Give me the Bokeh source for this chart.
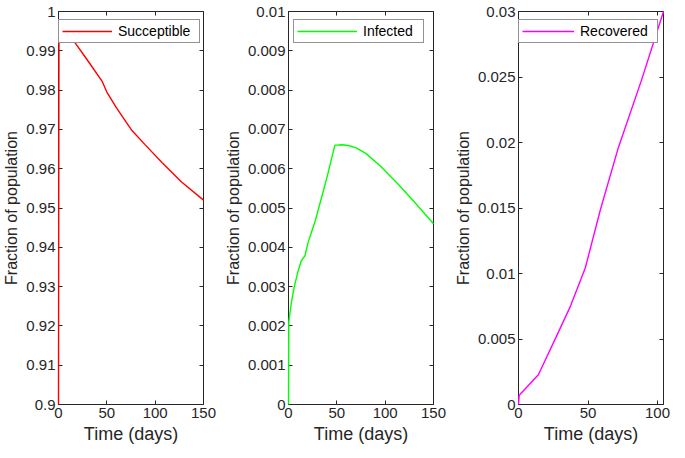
from bokeh.plotting import figure
from bokeh.layouts import row
from bokeh.models import (LinearAxis, FixedTicker, CustomJSTickFormatter, Range1d,
                          Legend, LegendItem)
from bokeh.embed import file_html
from bokeh.resources import INLINE

# ---- data ----
t_s = [0, 0.5, 1, 17, 30, 45, 50, 60, 76, 90, 107, 127, 150]
s_vals = [0.9, 0.995, 0.9972, 0.9921, 0.9876, 0.9823, 0.9795, 0.9755, 0.9697,
          0.9660, 0.9616, 0.9567, 0.9520]

t_i = [0, 0.3, 3, 6, 10, 13, 15, 17, 20, 28, 40, 48, 50, 55, 62, 70, 80, 95,
       114, 130, 150]
i_vals = [0, 0.0021, 0.0026, 0.0030, 0.0034, 0.00364, 0.00372, 0.00378, 0.0041,
          0.0047, 0.0058, 0.0066, 0.0066, 0.00661, 0.00659, 0.00653, 0.00639,
          0.00607, 0.00559, 0.00516, 0.0046]

t_r = [0, 0.5, 14.3, 26.7, 37.4, 48.1, 58.8, 71.4, 88.6, 104.3]
r_vals = [0, 0.0007, 0.00227, 0.00507, 0.00751, 0.01044, 0.01483, 0.01946,
          0.0248, 0.030]

x_ticks_150 = [0, 50, 100, 150]
x_ticks_r = [0, 50, 100]
y_ticks_s = [0.9, 0.91, 0.92, 0.93, 0.94, 0.95, 0.96, 0.97, 0.98, 0.99, 1.0]
y_ticks_i = [0, 0.001, 0.002, 0.003, 0.004, 0.005, 0.006, 0.007, 0.008, 0.009, 0.01]
y_ticks_r = [0, 0.005, 0.01, 0.015, 0.02, 0.025, 0.03]

labels = ["Succeptible", "Infected", "Recovered"]
colors = ["#FF0000", "#00FF00", "#FF00FF"]

FONT = "Liberation Sans"
AX = "#262626"
FW = 145
FH = 393

fmt_code = "return String(parseFloat(tick.toFixed(4)));"


def style_axis(ax, ticks, show_labels=True):
    ax.ticker = FixedTicker(ticks=ticks)
    ax.major_tick_in = 4
    ax.major_tick_out = 0
    ax.minor_tick_line_color = None
    ax.major_tick_line_color = AX
    ax.major_tick_line_width = 1
    if show_labels:
        ax.formatter = CustomJSTickFormatter(code=fmt_code)
        ax.major_label_text_font = FONT
        ax.major_label_text_font_size = "15px"
        ax.major_label_text_color = AX
        ax.major_label_standoff = 3
        ax.axis_line_color = AX
        ax.axis_line_width = 1
    else:
        # labels not drawn at all (no colour), tiny reserved size
        ax.major_label_text_font_size = "1px"
        ax.major_label_text_color = None
        ax.major_label_standoff = 0
        ax.axis_line_color = None


def make(t, v, color, label, xr, yr, xt, yt, bl, br, leg_dx, gw, lw):
    p = figure(output_backend="svg", toolbar_location=None,
               frame_width=FW, frame_height=FH,
               x_range=Range1d(*xr), y_range=Range1d(*yr),
               min_border_left=bl, min_border_right=br,
               min_border_top=11, min_border_bottom=10,
               x_axis_label="Time (days)", y_axis_label="Fraction of population")
    p.grid.visible = False
    p.outline_line_color = AX
    p.outline_line_width = 1
    p.background_fill_color = "white"
    p.border_fill_color = "white"

    style_axis(p.xaxis[0], xt)
    style_axis(p.yaxis[0], yt)
    for ax, size in ((p.xaxis[0], "18px"), (p.yaxis[0], "16px")):
        ax.axis_label_text_font = FONT
        ax.axis_label_text_font_size = size
        ax.axis_label_text_font_style = "normal"
        ax.axis_label_text_color = AX
        ax.axis_label_standoff = 3

    top = LinearAxis()
    style_axis(top, xt, show_labels=False)
    p.add_layout(top, "above")
    right = LinearAxis()
    style_axis(right, yt, show_labels=False)
    p.add_layout(right, "right")

    r = p.line(t, v, line_color=color, line_width=1.4)
    r.level = "overlay"
    leg = Legend(items=[LegendItem(label=label, renderers=[r])],
                 location=(leg_dx, FH - 12 - 20),
                 border_line_color=AX, border_line_width=1,
                 background_fill_color="white", background_fill_alpha=1.0,
                 padding=3, margin=0, spacing=0,
                 glyph_width=gw, glyph_height=14, label_standoff=6,
                 label_height=14, label_width=lw,
                 label_text_font=FONT, label_text_font_size="14px",
                 label_text_color="black")
    p.add_layout(leg, "center")
    return p


p1 = make(t_s, s_vals, colors[0], labels[0], (0, 150), (0.9, 1.0),
          x_ticks_150, y_ticks_s, 52, 16, 0, 50, 78)
p2 = make(t_i, i_vals, colors[1], labels[1], (0, 150), (0, 0.01),
          x_ticks_150, y_ticks_i, 69, 16, 5, 60, 57)
p3 = make(t_r, r_vals, colors[2], labels[2], (0, 104.3), (0, 0.03),
          x_ticks_r, y_ticks_r, 69, 9, 0, 52, 74)

layout = row(p1, p2, p3)
open("out.html", "w").write(file_html(layout, INLINE))
